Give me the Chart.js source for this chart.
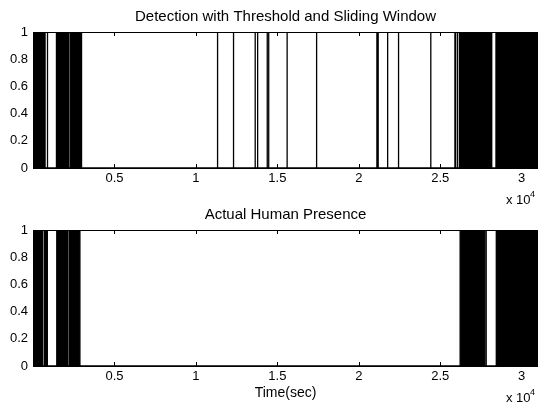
<!DOCTYPE html>
<html>
<head>
<meta charset="utf-8">
<script src="https://cdn.jsdelivr.net/npm/chart.js@4.4.1/dist/chart.umd.min.js"></script>
<style>
  html, body { margin: 0; padding: 0; background: #fff; }
  #wrap { position: relative; width: 538px; height: 405px; overflow: hidden; background: #fff; }
  canvas { position: absolute; left: 0; }
  #c1 { top: 0; }
  #c2 { top: 205px; }
</style>
</head>
<body>
<div id="wrap">
  <canvas id="c1" width="538" height="210"></canvas>
  <canvas id="c2" width="538" height="200"></canvas>
</div>
<script>
// Time axis (seconds) and tick labels, shown in units of 10^4 s
const TIME_MAX = 31000;
const xTickValues = [5000, 10000, 15000, 20000, 25000, 30000];
const xTickLabels = ['0.5', '1', '1.5', '2', '2.5', '3'];
const yTickValues = [0, 0.2, 0.4, 0.6, 0.8, 1];
const yTickLabels = ['0', '0.2', '0.4', '0.6', '0.8', '1'];

// Detector output: spans of dense on/off switching [start, end] and isolated single hits (s)
const detectedBlocks = [[0, 740], [1440, 2190], [2290, 2980], [26190, 28080], [28420, 31000]];
const detectedSpikes = [890, 11330, 12310, 13640, 13790, 14380, 14470, 15600, 17410,
                        21110, 21190, 21770, 22440, 24420, 25900, 25950, 26070, 28160];

// Ground truth presence
const actualBlocks = [[0, 590], [700, 880], [1460, 2150], [2250, 2880], [26220, 27730], [28440, 31000]];
const actualSpikes = [27820];

const FONT = "'Liberation Sans', Arial, Helvetica, sans-serif";

// Turn spans and single hits into a 0/1 trace
function toTrace(blocks, spikes) {
  const items = blocks.map(b => ({ s: b[0], e: b[1] }))
    .concat(spikes.map(t => ({ s: t, e: t })))
    .sort((a, b) => a.s - b.s);
  const pts = [];
  if (items.length && items[0].s > 0) pts.push({ x: 0, y: 0 });
  items.forEach(it => {
    pts.push({ x: it.s, y: 0 }, { x: it.s, y: 1 });
    if (it.e > it.s) pts.push({ x: it.e, y: 1 });
    pts.push({ x: it.e, y: 0 });
  });
  if (pts[pts.length - 1].x < TIME_MAX) pts.push({ x: TIME_MAX, y: 0 });
  return pts;
}

// Axes box top edge, inward tick marks and the figure texts
const framePlugin = {
  id: 'frame',
  afterDatasetsDraw(chart, args, opts) {
    const { ctx, chartArea: a, scales: { x, y } } = chart;
    ctx.save();
    ctx.strokeStyle = '#000';
    ctx.lineWidth = 1;
    ctx.beginPath();
    ctx.moveTo(a.left, a.top + 0.5);
    ctx.lineTo(a.right, a.top + 0.5);
    xTickValues.forEach(v => {
      const px = Math.round(x.getPixelForValue(v)) + 0.5;
      ctx.moveTo(px, a.bottom); ctx.lineTo(px, a.bottom - 4);
      ctx.moveTo(px, a.top); ctx.lineTo(px, a.top + 4);
    });
    yTickValues.forEach(v => {
      const py = Math.round(y.getPixelForValue(v)) + 0.5;
      ctx.moveTo(a.left, py); ctx.lineTo(a.left + 4, py);
    });
    ctx.stroke();

    ctx.fillStyle = '#000';
    ctx.textBaseline = 'alphabetic';
    // title
    ctx.font = '15px ' + FONT;
    ctx.textAlign = 'center';
    ctx.fillText(opts.title, (a.left + a.right) / 2, a.top - 11);
    // axis label
    if (opts.xlabel) {
      ctx.font = '14px ' + FONT;
      ctx.fillText(opts.xlabel, (a.left + a.right) / 2, a.bottom + 31);
    }
    // exponent of the time axis
    ctx.textAlign = 'left';
    ctx.font = '13px ' + FONT;
    ctx.fillText('x 10', 506, a.bottom + 36);
    ctx.font = '9px ' + FONT;
    ctx.fillText('4', 530, a.bottom + 29);
    ctx.restore();
  }
};

function makeChart(id, trace, title, xlabel, padTop, xHeight) {
  return new Chart(document.getElementById(id), {
    type: 'line',
    data: {
      datasets: [{
        data: trace,
        borderColor: '#000',
        backgroundColor: '#000',
        borderWidth: 1.3,
        fill: 'origin',
        pointRadius: 0,
        tension: 0
      }]
    },
    options: {
      responsive: false,
      animation: false,
      devicePixelRatio: 1,
      layout: { padding: { top: padTop, left: 0, right: 0, bottom: 0 } },
      plugins: {
        legend: { display: false },
        tooltip: { enabled: false },
        frame: { title: title, xlabel: xlabel }
      },
      scales: {
        x: {
          type: 'linear',
          min: 0,
          max: TIME_MAX,
          afterBuildTicks: s => { s.ticks = xTickValues.map(v => ({ value: v })); },
          afterFit: s => { s.height = xHeight; },
          ticks: {
            callback: (v, i) => xTickLabels[i],
            font: { family: FONT, size: 13 },
            color: '#000',
            padding: 3,
            maxRotation: 0,
            autoSkip: false
          },
          grid: { display: false, drawTicks: false },
          border: { display: true, color: '#000', width: 1 }
        },
        y: {
          min: 0,
          max: 1,
          afterBuildTicks: s => { s.ticks = yTickValues.map(v => ({ value: v })); },
          afterFit: s => { s.width = 33; },
          ticks: {
            callback: (v, i) => yTickLabels[i],
            font: { family: FONT, size: 13 },
            color: '#000',
            padding: 5
          },
          grid: { display: false, drawTicks: false },
          border: { display: true, color: '#000', width: 1 }
        }
      }
    },
    plugins: [framePlugin]
  });
}

makeChart('c1', toTrace(detectedBlocks, detectedSpikes),
  'Detection with Threshold and Sliding Window', null, 32, 42);
makeChart('c2', toTrace(actualBlocks, actualSpikes),
  'Actual Human Presence', 'Time(sec)', 25, 39);
</script>
</body>
</html>
